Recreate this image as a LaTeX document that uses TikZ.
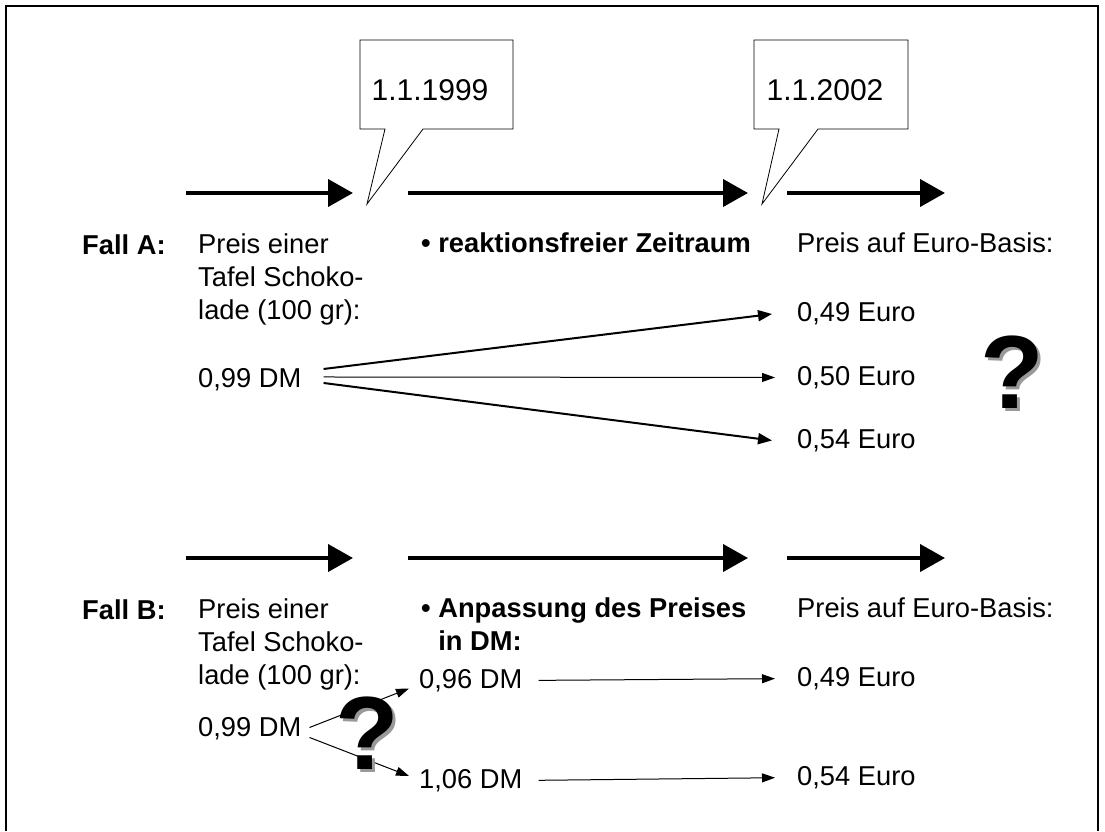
\documentclass[tikz,border=0pt]{standalone}
\usepackage{fontspec}
\setmainfont{Liberation Sans}
\usetikzlibrary{arrows.meta,calc}
\newcommand{\bodyfs}{\fontsize{27.3}{33}\selectfont}
\newcommand{\datefs}{\fontsize{30}{36}\selectfont}
\newcommand{\qfs}{\fontsize{104}{104}\selectfont\bfseries}
\tikzset{
  txt/.style={font=\bodyfs,inner sep=0pt,anchor=north west,align=left},
  txtb/.style={txt,font=\bodyfs\bfseries},
  datelbl/.style={font=\datefs,inner sep=0pt},
  callout/.style={draw=black,line width=0.8pt,fill=white},
  frame/.style={line width=2pt},
  timeline/.style={line width=4pt,-{Triangle[length=25pt,width=27pt]}},
  fan/.style={line width=2pt,-{Triangle[length=14pt,width=11pt]}},
  slim/.style={line width=1pt,-{Triangle[length=13pt,width=9pt]}},
  qmark/.style={font=\qfs,inner sep=0pt},
  qshadow/.style={qmark,text=black!40},
}

\begin{document}
\begin{tikzpicture}[x=1pt,y=-1pt]
  \useasboundingbox (0,0) rectangle (1105,831);
  \draw[frame] (6,831) -- (6,6) -- (1098,6) -- (1098,831);

  % callouts
  \draw[callout] (360,40) -- (513,40) -- (513,129) -- (423,129) -- (367,204)
    -- (385,129) -- (360,129) -- cycle;
  \node[datelbl] (d1999) at (430,90.5) {1.1.1999};
  \draw[callout] (754,40) -- (908,40) -- (908,129) -- (818,129) -- (762,204)
    -- (779,129) -- (754,129) -- cycle;
  \node[datelbl] (d2002) at (825,90.5) {1.1.2002};

  % time lines
  \foreach \r/\yy in {A/193,B/558}{
    \foreach \i/\xa/\xb in {1/186/353,2/408/748,3/787/945}{
      \coordinate (t\r\i s) at (\xa,\yy);
      \coordinate (t\r\i e) at (\xb,\yy);
      \draw[timeline] (t\r\i s) -- (t\r\i e);
    }
  }

  % Fall A
  \node[txtb] (fallA) at (82,235) {Fall A:};
  \node[txt] (preisA) at (198,233.5) {Preis einer\\Tafel Schoko-\\lade (100 gr):};
  \node[txtb] (phaseA) at (421,233) {• reaktionsfreier Zeitraum};
  \node[txt] (euroA) at (797,233) {Preis auf Euro-Basis:};
  \node[txt] (dmA) at (198,368) {0,99 DM};
  \node[txt] (eA49) at (797,302.5) {0,49 Euro};
  \node[txt] (eA50) at (797,366) {0,50 Euro};
  \node[txt] (eA54) at (797,429) {0,54 Euro};
  \draw[fan] ([shift={(22,-10.5)}]dmA.east) -- ([xshift=-25pt]eA49.west);
  \draw[slim] ([shift={(22,-2.5)}]dmA.east) -- ([xshift=-22pt]eA50.west);
  \draw[fan] ([shift={(22,3.5)}]dmA.east) -- ([xshift=-25pt]eA54.west);
  \node[qshadow] (qAs) at (1015,375) {?};
  \node[qmark] (qA) at (1012,372) {?};

  % Fall B
  \node[txtb] (fallB) at (82,600) {Fall B:};
  \node[txt] (preisB) at (198,598.5) {Preis einer\\Tafel Schoko-\\lade (100 gr):};
  \node[txtb] (phaseB) at (421,598) {• Anpassung des Preises\\\phantom{• }in DM:};
  \node[txt] (euroB) at (797,598) {Preis auf Euro-Basis:};
  \node[txt] (dmB) at (198,717) {0,99 DM};
  \node[txt] (dm96) at (419,669) {0,96 DM};
  \node[txt] (dm106) at (419,769) {1,06 DM};
  \node[txt] (eB49) at (797,667) {0,49 Euro};
  \node[txt] (eB54) at (797,766) {0,54 Euro};
  \draw[slim] ([shift={(8,-1)}]dmB.east) -- ([shift={(-10,8)}]dm96.west);
  \draw[slim] ([shift={(8,9)}]dmB.east) -- ([shift={(-10,-4.5)}]dm106.west);
  \draw[slim, shorten <=16pt, shorten >=22pt] (dm96.east) -- (eB49.west);
  \draw[slim, shorten <=16pt, shorten >=22pt] (dm106.east) -- (eB54.west);
  \node[qshadow] (qBs) at (370,736) {?};
  \node[qmark] (qB) at (367,733) {?};
\end{tikzpicture}
\end{document}
